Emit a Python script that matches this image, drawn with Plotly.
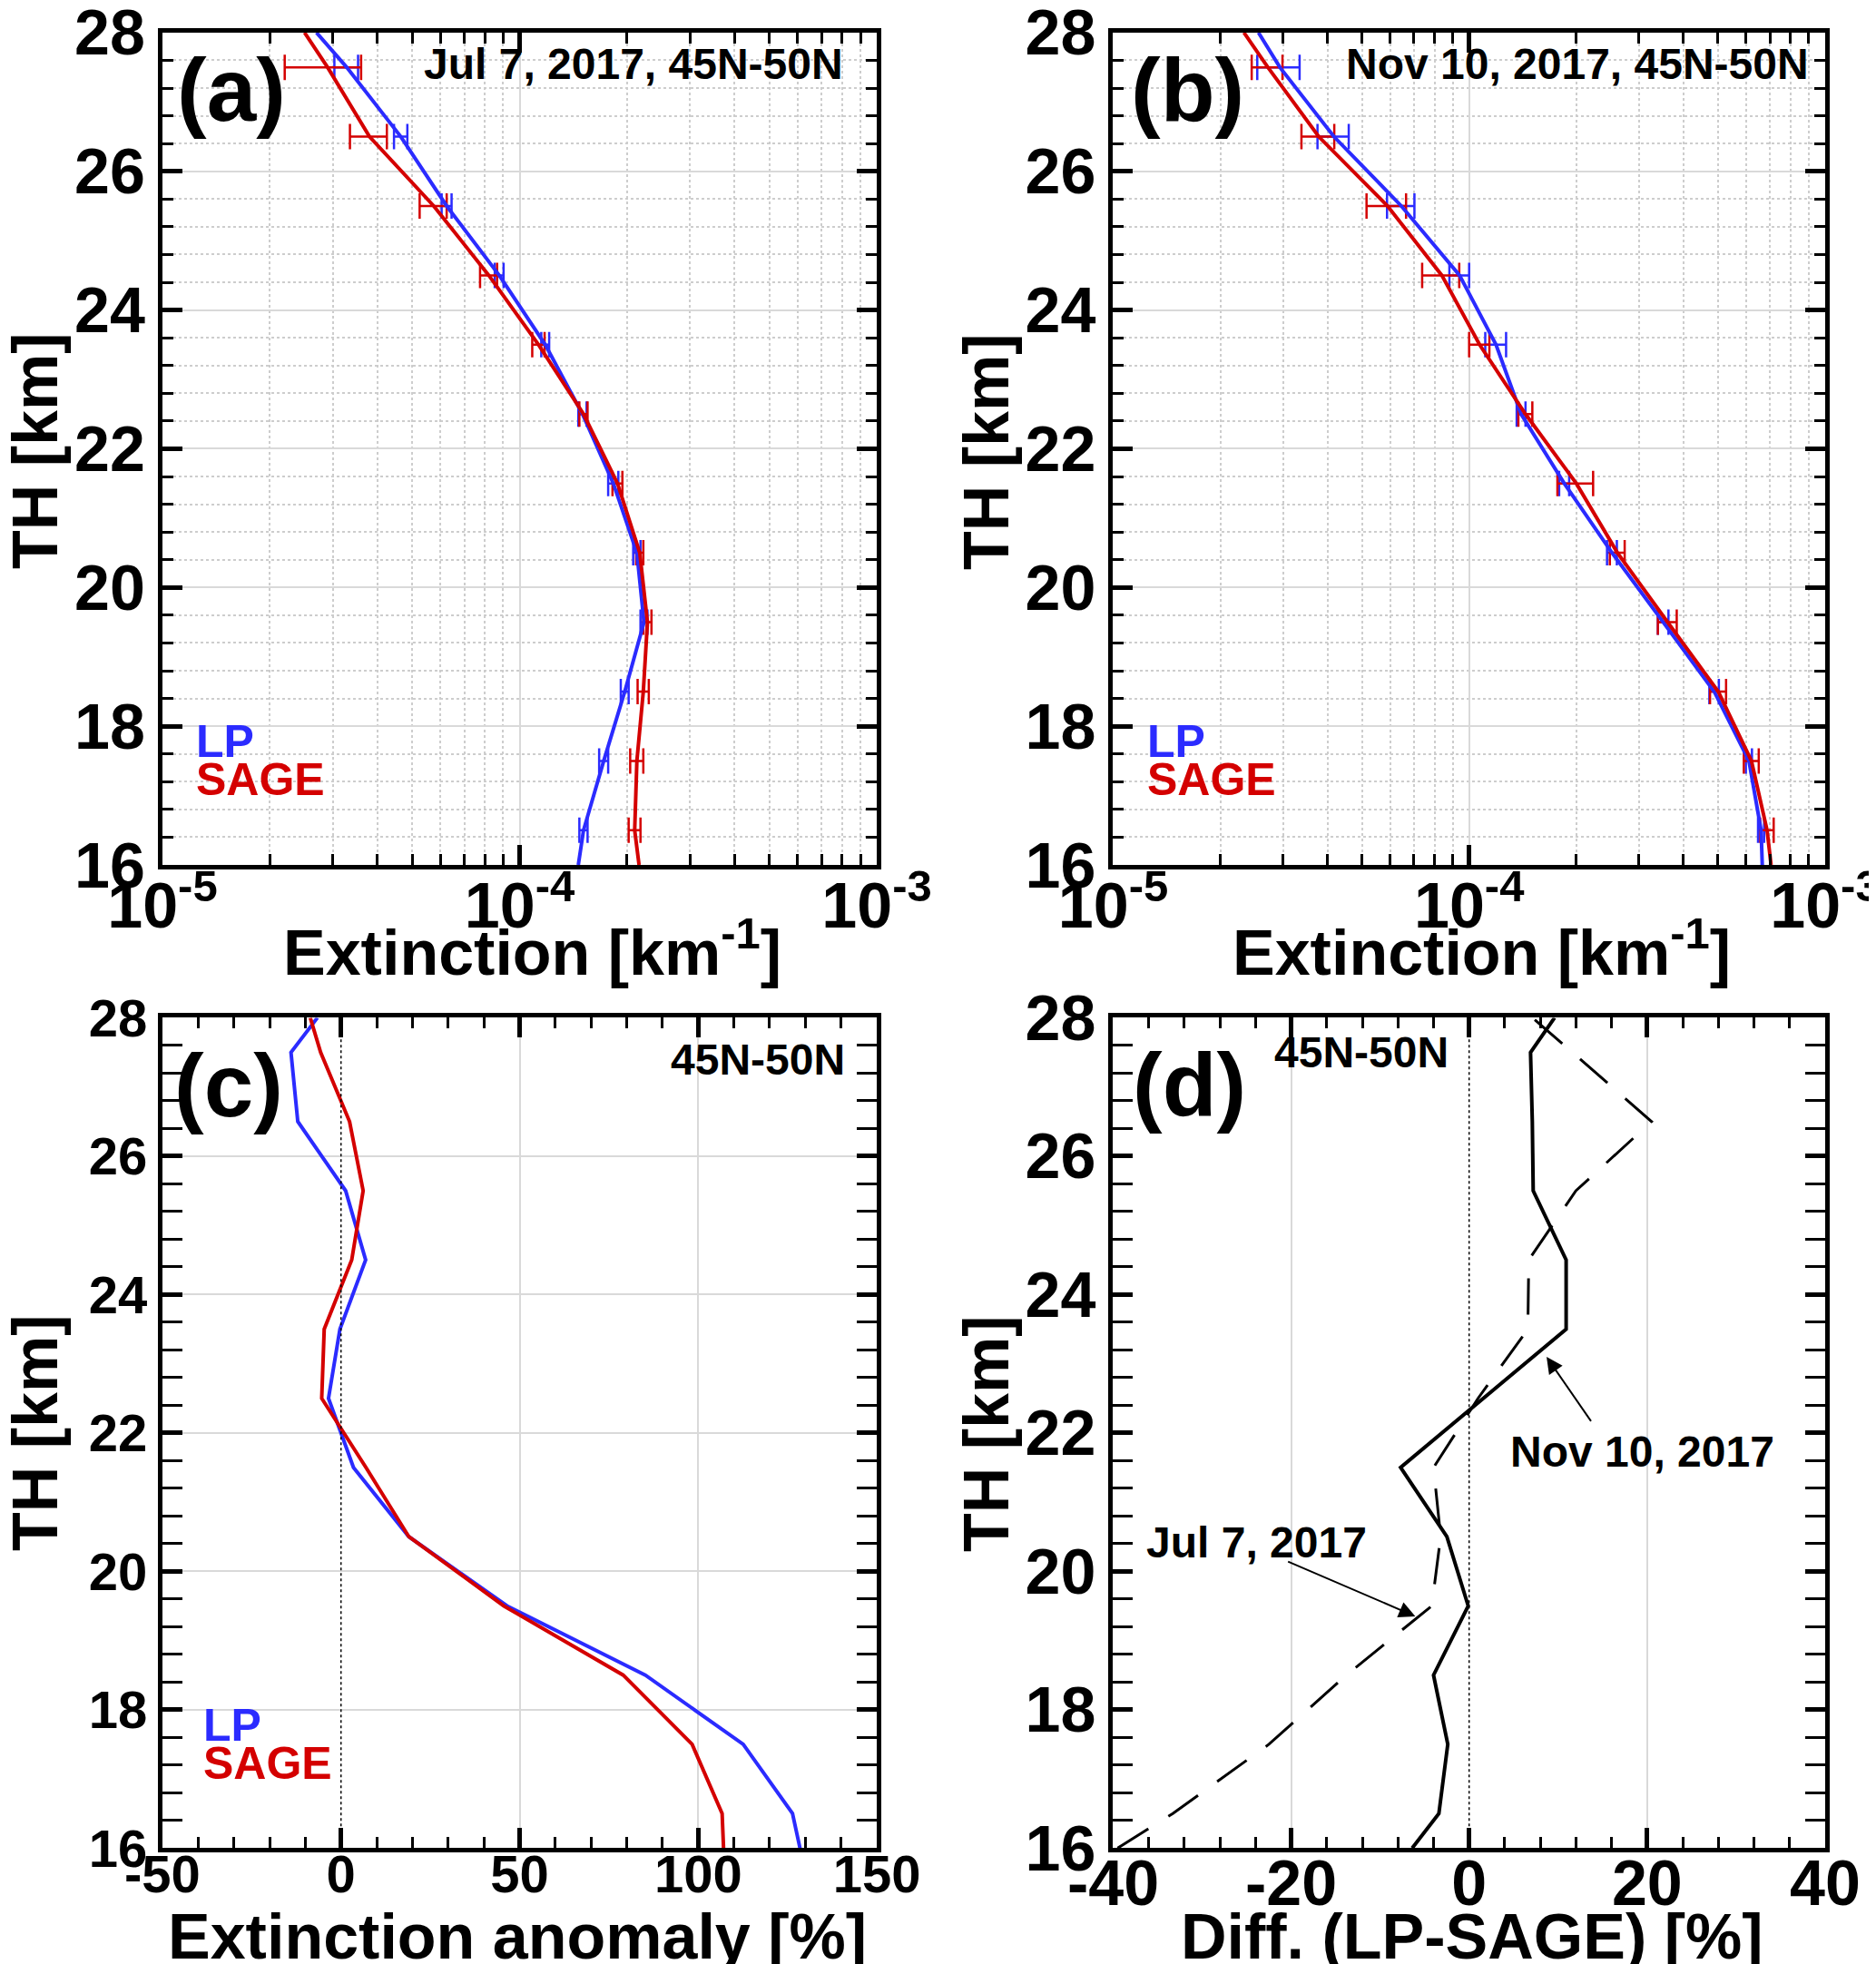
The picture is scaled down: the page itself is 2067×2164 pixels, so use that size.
import plotly.graph_objects as go

# Altitude levels (km): line vertices and error bar levels
alt_line = [16, 16.5, 17.5, 18.5, 19.5, 20.5, 21.5, 22.5, 23.5, 24.5, 25.5, 26.5, 27.5, 28]
alt_err = [16.5, 17.5, 18.5, 19.5, 20.5, 21.5, 22.5, 23.5, 24.5, 25.5, 26.5, 27.5]

# (a) Jul 7, 2017, extinction [km-1]
lp_jul = [1.46e-4, 1.51e-4, 1.72e-4, 1.97e-4, 2.23e-4, 2.13e-4, 1.83e-4,
          1.50e-4, 1.18e-4, 8.77e-5, 6.25e-5, 4.65e-5, 3.28e-5, 2.70e-5]
sage_jul = [2.16e-4, 2.10e-4, 2.13e-4, 2.22e-4, 2.28e-4, 2.17e-4, 1.88e-4,
            1.51e-4, 1.13e-4, 8.20e-5, 5.75e-5, 3.80e-5, 2.90e-5, 2.50e-5]
lp_jul_err = [0.04e-4, 0.05e-4, 0.05e-4, 0.05e-4, 0.05e-4, 0.06e-4,
              0.04e-4, 0.03e-4, 0.25e-5, 0.2e-5, 0.2e-5, 0.25e-5]
sage_jul_err = [0.08e-4, 0.09e-4, 0.08e-4, 0.06e-4, 0.05e-4, 0.06e-4,
                0.04e-4, 0.045e-4, 0.45e-5, 0.5e-5, 0.45e-5, 0.7e-5]

# (b) Nov 10, 2017, extinction [km-1]
lp_nov = [6.66e-4, 6.61e-4, 6.11e-4, 4.88e-4, 3.51e-4, 2.52e-4, 1.85e-4,
          1.40e-4, 1.19e-4, 9.40e-5, 6.45e-5, 4.17e-5, 2.94e-5, 2.56e-5]
sage_nov = [7.05e-4, 6.87e-4, 6.21e-4, 5.01e-4, 3.61e-4, 2.61e-4, 2.00e-4,
            1.44e-4, 1.07e-4, 8.38e-5, 5.90e-5, 3.78e-5, 2.72e-5, 2.33e-5]
lp_nov_err = [0.13e-4, 0.12e-4, 0.15e-4, 0.12e-4, 0.08e-4, 0.06e-4,
              0.04e-4, 0.08e-4, 0.6e-5, 0.57e-5, 0.42e-5, 0.4e-5]
sage_nov_err = [0.3e-4, 0.3e-4, 0.26e-4, 0.22e-4, 0.125e-4, 0.23e-4,
                0.065e-4, 0.07e-4, 1.0e-5, 0.75e-5, 0.4e-5, 0.27e-5]

# (c) extinction anomaly [%]
lp_anom = [128.5, 126.4, 112.6, 85.2, 46.5, 19.0, 3.5, -3.5, -0.3, 6.9, 1.3, -12.1, -14.0, -6.6]
sage_anom = [107.1, 106.7, 98.3, 79.0, 45.6, 19.0, 7.0, -5.4, -4.7, 3.0, 6.2, 2.4, -5.7, -8.6]

# (d) Diff. (LP-SAGE) [%]
nov_diff = [-6.4, -3.4, -2.4, -4.0, -0.1, -2.5, -7.7, 1.6, 10.9, 10.9, 7.2, 7.1, 6.9, 9.6]
jul_diff = [-39.5, -33.3, -22.5, -13.8, -4.2, -3.2, -4.0, 1.0, 6.6, 6.7, 12.0, 20.5, 11.6, 7.1]

# tick values / labels
log_ticks = [1e-5, 1e-4, 1e-3]
log_ticktext = ['10<sup>-5</sup>', '10<sup>-4</sup>', '10<sup>-3</sup>']
log_minor = [m * 10.0 ** e for e in (-5, -4) for m in range(2, 10)]
anom_ticks = [-50, 0, 50, 100, 150]
anom_grid = [50, 100]
diff_ticks = [-40, -20, 0, 20, 40]
diff_grid = [-20, 20]
alt_ticks = [16, 18, 20, 22, 24, 26, 28]
zero_x = [0, 0]
zero_y = [16, 28]

FONT = 'Liberation Sans'
BLUE = '#2b2bff'
RED = '#d40000'
GRID = '#d9d9d9'


def font(size, color='black'):
    return dict(family=FONT, size=size, color=color, weight='bold')


def frame(tick_size=70, minor=None, **kw):
    ax = dict(showline=True, linecolor='black', linewidth=5, mirror='allticks',
              ticks='inside', ticklen=22, tickwidth=5, tickcolor='black',
              zeroline=False, showgrid=True, gridcolor=GRID, gridwidth=2,
              tickfont=font(tick_size), ticklabeloverflow='allow', automargin=False)
    m = dict(ticks='inside', ticklen=12, tickwidth=3, tickcolor='black', showgrid=False)
    if minor:
        m.update(minor)
    ax['minor'] = m
    ax.update(kw)
    return ax


def grid_only(over, anchor, rng, vals, domain):
    return dict(overlaying=over, anchor=anchor, range=rng, domain=domain,
                tickmode='array', tickvals=vals, showticklabels=False, ticks='',
                showline=False, zeroline=False, showgrid=True, gridcolor=GRID,
                gridwidth=2, automargin=False)


fig = go.Figure()

# extinction profiles (a) and (b)
for xa, ya, lp, sage, lp_err, sage_err in [
    ('x', 'y', lp_jul, sage_jul, lp_jul_err, sage_jul_err),
    ('x2', 'y2', lp_nov, sage_nov, lp_nov_err, sage_nov_err),
]:
    for vals, err, col in [(lp, lp_err, BLUE), (sage, sage_err, RED)]:
        fig.add_trace(go.Scatter(
            x=vals[1:-1], y=alt_err, mode='markers', xaxis=xa, yaxis=ya,
            marker=dict(size=1, color='rgba(0,0,0,0)'),
            error_x=dict(type='data', array=err, color=col, thickness=2.5, width=14),
            showlegend=False))
    fig.add_trace(go.Scatter(x=lp, y=alt_line, mode='lines', xaxis=xa, yaxis=ya,
                             line=dict(color=BLUE, width=4), showlegend=False))
    fig.add_trace(go.Scatter(x=sage, y=alt_line, mode='lines', xaxis=xa, yaxis=ya,
                             line=dict(color=RED, width=4), showlegend=False))

# dotted zero lines in (c) and (d), on the grid-only overlay axes
fig.add_trace(go.Scatter(x=zero_x, y=zero_y, mode='lines', xaxis='x5', yaxis='y3',
                         line=dict(color='black', width=1.5, dash='dot'), showlegend=False))
fig.add_trace(go.Scatter(x=zero_x, y=zero_y, mode='lines', xaxis='x6', yaxis='y4',
                         line=dict(color='black', width=1.5, dash='dot'), showlegend=False))

# anomaly (c)
fig.add_trace(go.Scatter(x=lp_anom, y=alt_line, mode='lines', xaxis='x3', yaxis='y3',
                         line=dict(color=BLUE, width=4), showlegend=False))
fig.add_trace(go.Scatter(x=sage_anom, y=alt_line, mode='lines', xaxis='x3', yaxis='y3',
                         line=dict(color=RED, width=4), showlegend=False))

# difference (d)
fig.add_trace(go.Scatter(x=jul_diff, y=alt_line, mode='lines', xaxis='x4', yaxis='y4',
                         line=dict(color='black', width=3, dash='40px,26px'), showlegend=False))
fig.add_trace(go.Scatter(x=nov_diff, y=alt_line, mode='lines', xaxis='x4', yaxis='y4',
                         line=dict(color='black', width=4), showlegend=False))

xdom_l = [0.0827, 0.4635]
xdom_r = [0.5895, 0.9690]
ydom_t = [0.5633, 0.9871]
ydom_b = [0.0627, 0.4855]

y_minor = dict(dtick=0.4, tick0=16)
y_minor_grid = dict(dtick=0.4, tick0=16, showgrid=True, gridcolor='#cdcdcd',
                    griddash='dot', gridwidth=1.5)
log_minor_cfg = dict(tickmode='array', tickvals=log_minor, showgrid=True,
                     gridcolor='#cdcdcd', griddash='dot', gridwidth=1.5)
alt_text = [str(v) for v in alt_ticks]

fig.update_layout(
    width=2067, height=2164,
    margin=dict(l=0, r=0, t=0, b=0, autoexpand=False),
    plot_bgcolor='white', paper_bgcolor='white',
    showlegend=False,
    xaxis=frame(type='log', range=[-5, -3], domain=xdom_l, anchor='y',
                tickmode='array', tickvals=log_ticks, ticktext=log_ticktext,
                minor=log_minor_cfg, ticklabelstandoff=-20),
    yaxis=frame(range=[16, 28], domain=ydom_t, anchor='x', tickmode='array',
                tickvals=alt_ticks, ticktext=alt_text, minor=y_minor_grid),
    xaxis2=frame(type='log', range=[-5, -3], domain=xdom_r, anchor='y2',
                 tickmode='array', tickvals=log_ticks, ticktext=log_ticktext,
                 minor=log_minor_cfg, ticklabelstandoff=-20),
    yaxis2=frame(range=[16, 28], domain=ydom_t, anchor='x2', tickmode='array',
                 tickvals=alt_ticks, ticktext=alt_text, minor=y_minor_grid),
    xaxis3=frame(tick_size=58, range=[-50, 150], domain=xdom_l, anchor='y3',
                 tickmode='array', tickvals=anom_ticks,
                 ticktext=[str(v) for v in anom_ticks], showgrid=False,
                 minor=dict(dtick=10, tick0=-50), ticklabelstandoff=-26),
    yaxis3=frame(tick_size=58, range=[16, 28], domain=ydom_b, anchor='x3',
                 tickmode='array', tickvals=alt_ticks, ticktext=alt_text, minor=y_minor),
    xaxis4=frame(range=[-40, 40], domain=xdom_r, anchor='y4', tickmode='array',
                 tickvals=diff_ticks, ticktext=[str(v) for v in diff_ticks],
                 showgrid=False, minor=dict(dtick=4, tick0=-40), ticklabelstandoff=-26),
    yaxis4=frame(range=[16, 28], domain=ydom_b, anchor='x4', tickmode='array',
                 tickvals=alt_ticks, ticktext=alt_text, showgrid=False, minor=y_minor),
    xaxis5=grid_only('x3', 'y3', [-50, 150], anom_grid, xdom_l),
    xaxis6=grid_only('x4', 'y4', [-40, 40], diff_grid, xdom_r),
)


def note(ax, text, x, y, size, color='black', xanchor='center'):
    sfx = '' if ax == 1 else str(ax)
    fig.add_annotation(xref=f'x{sfx} domain', yref=f'y{sfx} domain', x=x, y=y,
                       text=text, showarrow=False, xanchor=xanchor, yanchor='middle',
                       font=font(size, color))


def title(text, x, y, angle=0):
    fig.add_annotation(xref='paper', yref='paper', x=x, y=y, text=text,
                       showarrow=False, textangle=angle, xanchor='center',
                       yanchor='middle', font=font(70))


# axis titles
title('Extinction [km<sup>-1</sup>]', 0.280, 0.521)
title('Extinction [km<sup>-1</sup>]', 0.786, 0.521)
title('Extinction anomaly [%]', 0.272, 0.0175)
title('Diff. (LP-SAGE) [%]', 0.781, 0.0175)
for tx in (0.0150, 0.5220):
    title('TH [km]', tx, 0.774, -90)
    title('TH [km]', tx, 0.274, -90)

note(1, '(a)', 0.097, 0.931, 98)
note(2, '(b)', 0.105, 0.931, 98)
note(3, '(c)', 0.093, 0.918, 98)
note(4, '(d)', 0.107, 0.920, 98)

note(1, 'Jul 7, 2017, 45N-50N', 0.956, 0.962, 48, xanchor='right')
note(2, 'Nov 10, 2017, 45N-50N', 0.980, 0.962, 48, xanchor='right')
note(3, '45N-50N', 0.958, 0.950, 48, xanchor='right')
note(4, '45N-50N', 0.349, 0.958, 48)

for ax, x in [(1, 0.045), (2, 0.045), (3, 0.055)]:
    note(ax, 'LP', x, 0.148, 50, BLUE, xanchor='left')
    note(ax, 'SAGE', x, 0.102, 50, RED, xanchor='left')

# labelled arrows in (d)
fig.add_annotation(xref='x4', yref='y4', x=19.5, y=21.73, text='Nov 10, 2017',
                   showarrow=False, font=font(48))
fig.add_annotation(xref='x4', yref='y4', x=8.7, y=23.1, ax=13.8, ay=22.15,
                   axref='x4', ayref='y4', text='', showarrow=True,
                   arrowhead=2, arrowsize=1.8, arrowwidth=2, arrowcolor='black')
fig.add_annotation(xref='x4', yref='y4', x=-23.9, y=20.42, text='Jul 7, 2017',
                   showarrow=False, font=font(48))
fig.add_annotation(xref='x4', yref='y4', x=-6.05, y=19.35, ax=-20.5, ay=20.15,
                   axref='x4', ayref='y4', text='', showarrow=True,
                   arrowhead=2, arrowsize=1.8, arrowwidth=2, arrowcolor='black')

fig.write_html("out.html")
